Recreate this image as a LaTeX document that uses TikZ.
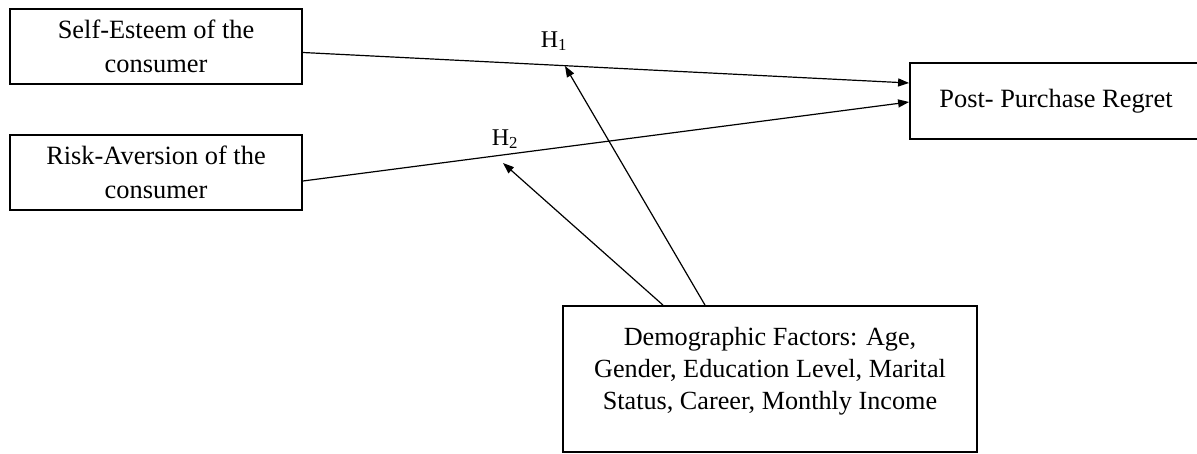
\documentclass[tikz,border=0pt]{standalone}
\usepackage{fontspec}
\setmainfont{Liberation Serif}
\usetikzlibrary{arrows.meta}
\begin{document}
\begin{tikzpicture}[x=1pt,y=1pt,
  box/.style={draw, line width=1.8pt, inner sep=0pt, align=center,
    font=\fontsize{26.4}{34}\selectfont},
  txt/.style={inner sep=0pt, align=center, font=\fontsize{26.2}{32}\selectfont},
  hlab/.style={inner sep=0pt, font=\fontsize{24}{28}\selectfont},
  link/.style={line width=1.2pt, -{Triangle[length=11pt,width=8pt]}}]
\useasboundingbox (0,0) rectangle (1197,-453);
\node[box, minimum width=292pt, minimum height=75pt] (se) at (156,-46.5)
  {Self-Esteem of the\\consumer};
\node[box, minimum width=292pt, minimum height=75pt] (ra) at (156,-172.5)
  {Risk-Aversion of the\\consumer};
\node[box, minimum width=292pt, minimum height=76pt] (post) at (1056,-101)
  {Post- Purchase Regret};
\node[box, minimum width=414pt, minimum height=146pt] (demo) at (770,-379) {};
\node[txt, anchor=north] (demotext) at ([yshift=-22pt]demo.north)
  {Demographic Factors: Age,\\Gender, Education Level, Marital\\Status, Career, Monthly Income};
\coordinate (h1tip) at (565,-66);
\coordinate (h2tip) at (503,-163);
\draw[link] ([yshift=-6pt]se.east) -- ([yshift=18pt]post.west);
\draw[link] ([yshift=-8.5pt]ra.east) -- ([yshift=-1pt]post.west);
\draw[link] ([xshift=-65pt]demo.north) -- (h1tip);
\draw[link] ([xshift=-107pt]demo.north) -- (h2tip);
\node[hlab, anchor=base] (h1) at (554,-47) {H\textsubscript{1}};
\node[hlab, anchor=base] (h2) at (505,-145) {H\textsubscript{2}};
\end{tikzpicture}
\end{document}
